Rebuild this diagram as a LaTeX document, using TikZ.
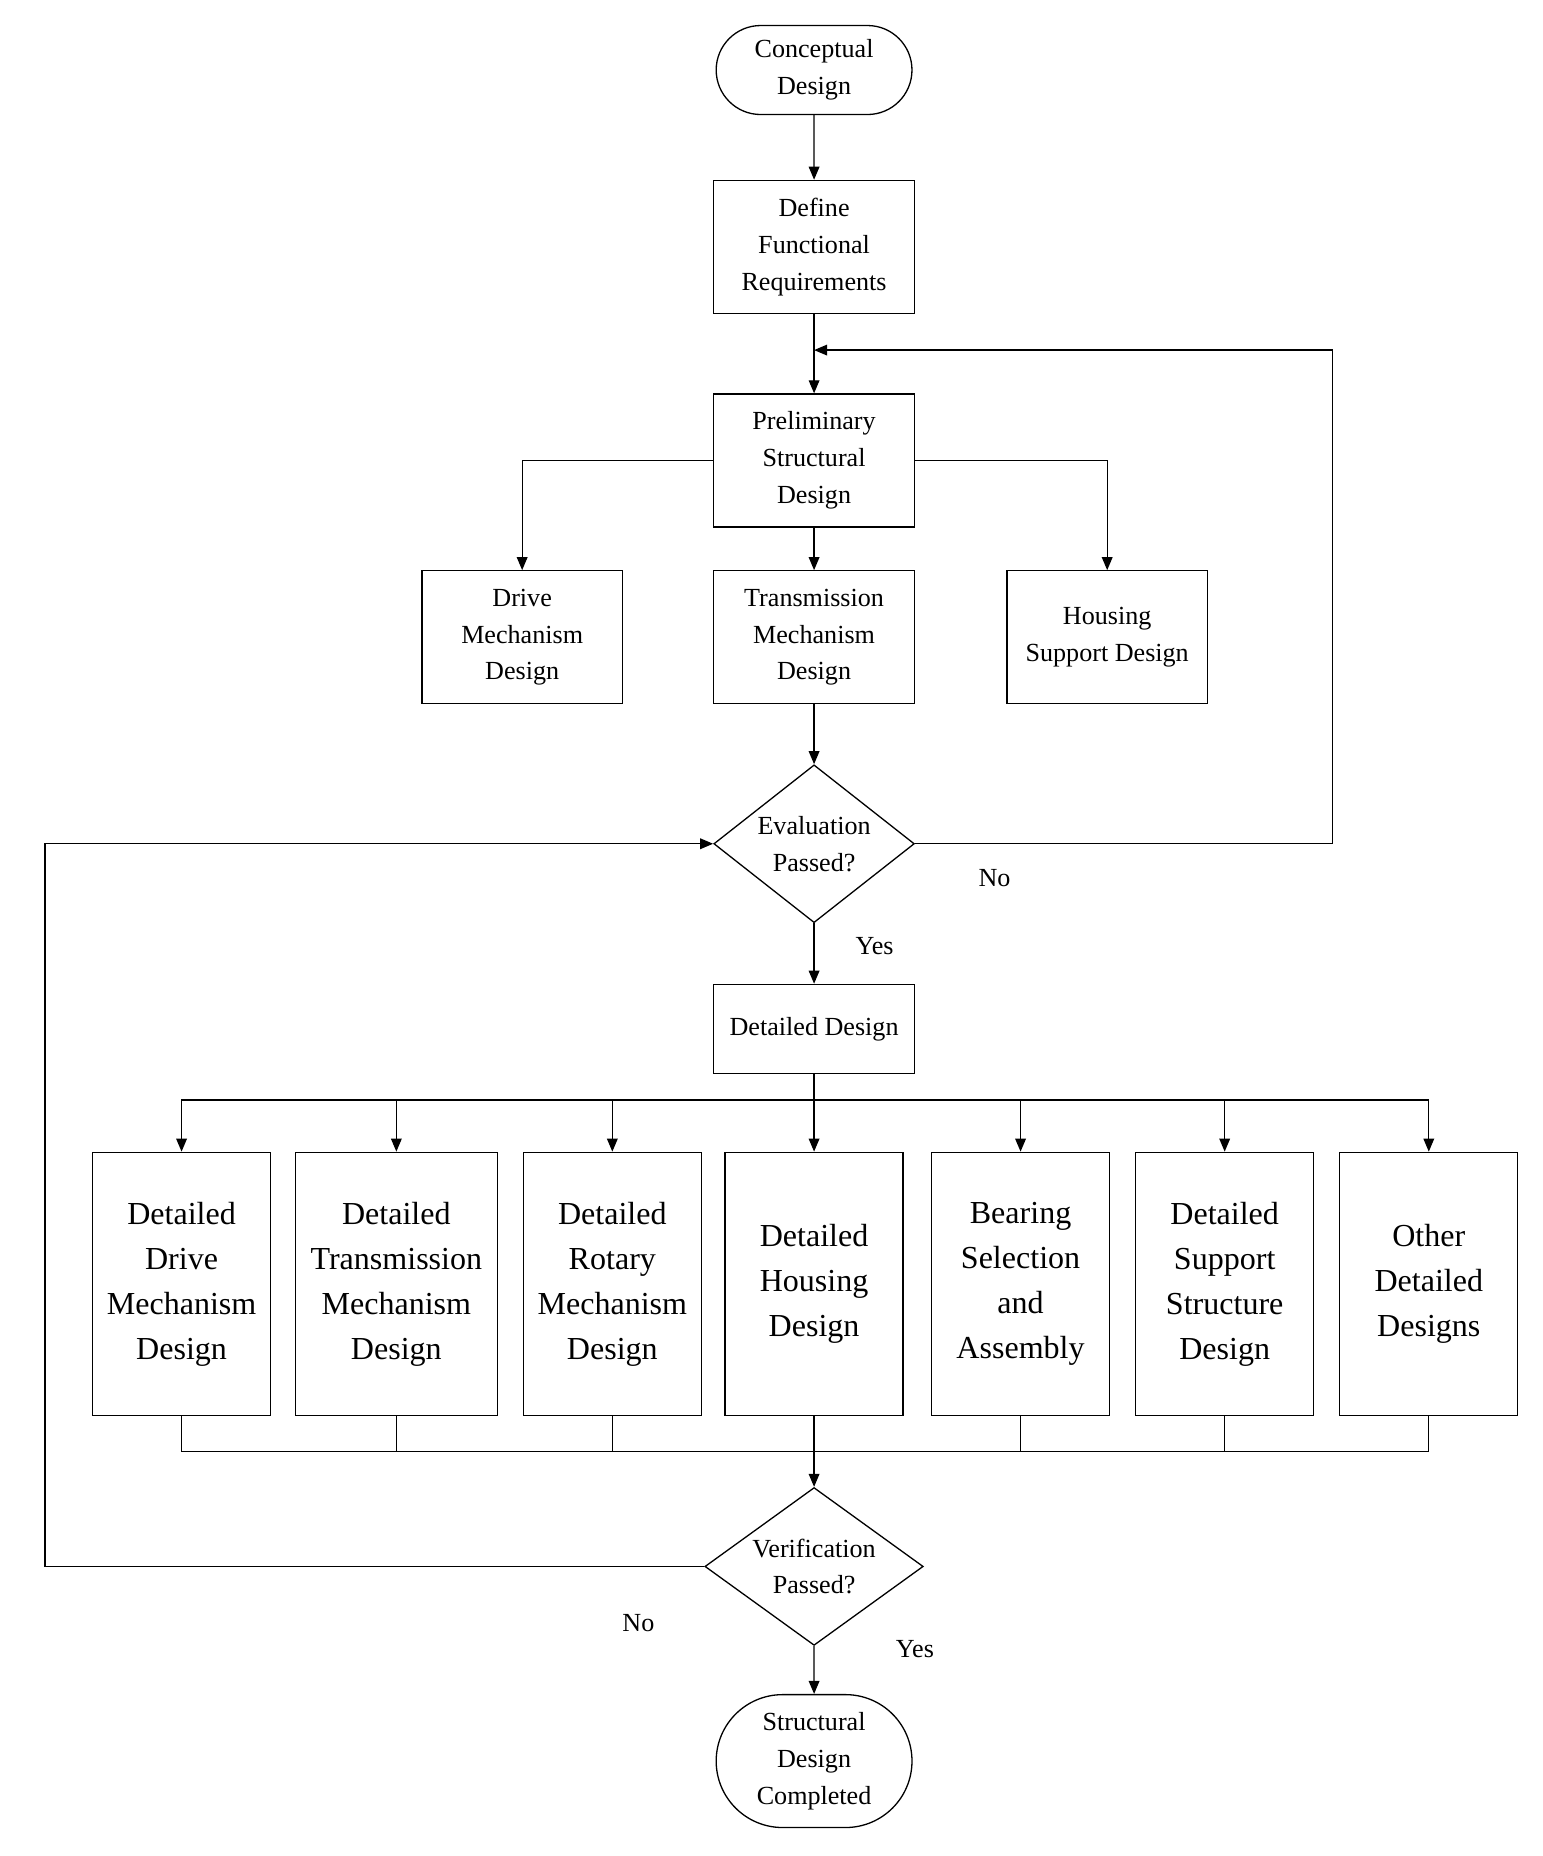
\documentclass[tikz,border=0pt]{standalone}
\usepackage{fontspec}
\setmainfont{Liberation Serif}
\usetikzlibrary{shapes.geometric,shapes.misc,arrows.meta}
\begin{document}
\begin{tikzpicture}[x=1pt,y=-1pt,
  sm/.style={font=\fontsize{22}{31}\selectfont,align=center},
  box/.style={draw,sm,minimum width=169pt,minimum height=112pt,inner sep=2pt},
  term/.style={draw,sm,rounded rectangle,minimum width=169pt,inner sep=2pt},
  big/.style={draw,font=\fontsize{27}{38}\selectfont,align=center,minimum width=150pt,minimum height=222pt,inner sep=1pt},
  dia/.style={draw,diamond,minimum width=#1,minimum height=133pt,inner sep=0pt},
  arr/.style={-{Triangle[length=11pt,width=9pt]}},
  line width=1.1pt]
\useasboundingbox (0,0) rectangle (1300,1564);
\node[term,minimum height=75pt] (cd) at (686,59) {Conceptual\\Design};
\node[box] (dfr) at (686,208) {Define\\Functional\\Requirements};
\node[box] (psd) at (686,388) {Preliminary\\Structural\\Design};
\node[box] (dmd) at (440,537) {Drive\\Mechanism\\Design};
\node[box] (tmd) at (686,537) {Transmission\\Mechanism\\Design};
\node[box] (hsd) at (933,537) {Housing\\Support Design};
\node[dia=169pt] (ev) at (686,711) {};
\node[sm] (evt) at (686,711) {Evaluation\\Passed?};
\node[box,minimum height=75pt] (dd) at (686,867) {Detailed Design};
\node[big] (b1) at (153,1082) {Detailed\\Drive\\Mechanism\\Design};
\node[big,minimum width=170pt] (b2) at (334,1082) {Detailed\\Transmission\\Mechanism\\Design};
\node[big] (b3) at (516,1082) {Detailed\\Rotary\\Mechanism\\Design};
\node[big] (b4) at (686,1082) {Detailed\\Housing\\Design};
\node[big] (b5) at (860,1082) {Bearing\\Selection\\and\\Assembly};
\node[big] (b6) at (1032,1082) {Detailed\\Support\\Structure\\Design};
\node[big] (b7) at (1204,1082) {Other\\Detailed\\Designs};
\node[dia=184pt] (ve) at (686,1320) {};
\node[sm] (vet) at (686,1320) {Verification\\Passed?};
\node[term,minimum height=112pt] (end) at (686,1484) {Structural\\Design\\Completed};
\node[sm] (no1) at (838,740) {No};
\node[sm] (yes1) at (737,797) {Yes};
\node[sm] (no2) at (538,1368) {No};
\node[sm] (yes2) at (771,1390) {Yes};
\coordinate (top) at (686,927);
\coordinate (bot) at (686,1223);
\draw[arr] (cd) -- (dfr);
\draw[arr] (dfr) -- (psd);
\draw[arr] (psd) -- (tmd);
\draw[arr] (psd.west) -| (dmd.north);
\draw[arr] (psd.east) -| (hsd.north);
\draw[arr] (tmd) -- (ev.north);
\draw[arr] (ev.east) -- (1123,711) -- (1123,295) -- (686,295);
\draw[arr] (ev.south) -- (dd);
\draw (dd) -- (top);
\foreach \b in {b1,b2,b3,b4,b5,b6,b7}{
  \draw[arr] (top) -| (\b.north);
  \draw (\b.south) |- (bot);
}
\draw[arr] (bot) -- (ve.north);
\draw[arr] (ve.west) -- (38,1320) -- (38,711) -- (ev.west);
\draw[arr] (ve.south) -- (end);
\end{tikzpicture}
\end{document}
